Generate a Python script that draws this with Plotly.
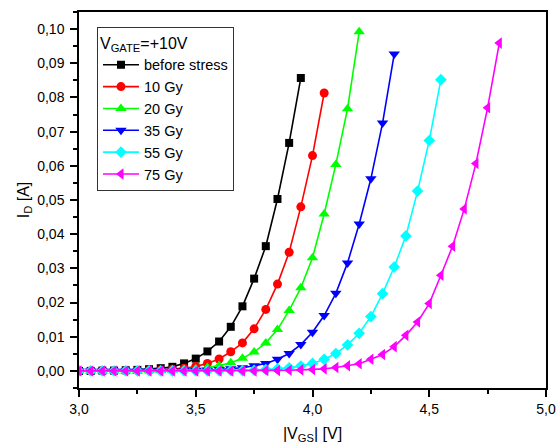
import plotly.graph_objects as go

VGS = [3.00, 3.05, 3.10, 3.15, 3.20, 3.25, 3.30, 3.35, 3.40, 3.45,
       3.50, 3.55, 3.60, 3.65, 3.70, 3.75, 3.80, 3.85, 3.90, 3.95,
       4.00, 4.05, 4.10, 4.15, 4.20, 4.25, 4.30, 4.35, 4.40, 4.45,
       4.50, 4.55, 4.60, 4.65, 4.70, 4.75, 4.80]

id_before = [0, 0, 0.0001, 0.0001, 0.0002, 0.0003, 0.0005, 0.0008, 0.0012, 0.0022,
             0.0036, 0.0057, 0.0086, 0.0129, 0.0189, 0.0270, 0.0365, 0.0503, 0.0667, 0.0857]
id_10gy = [0, 0, 0, 0, 0.0001, 0.0001, 0.0002, 0.0003, 0.0005, 0.0008,
           0.0013, 0.0022, 0.0035, 0.0056, 0.0082, 0.0123, 0.0180, 0.0254, 0.0347, 0.0480,
           0.0630, 0.0813]
id_20gy = [0, 0, 0, 0, 0, 0, 0.0001, 0.0001, 0.0002, 0.0004,
           0.0006, 0.0010, 0.0016, 0.0024, 0.0037, 0.0055, 0.0082, 0.0121, 0.0177, 0.0243,
           0.0331, 0.0459, 0.0604, 0.0767, 0.0992]
id_35gy = [0, 0, 0, 0, 0, 0, 0, 0, 0, 0.0001,
           0.0001, 0.0002, 0.0004, 0.0006, 0.0009, 0.0015, 0.0022, 0.0034, 0.0051, 0.0077,
           0.0113, 0.0162, 0.0227, 0.0316, 0.0430, 0.0562, 0.0725, 0.0927]
id_55gy = [0, 0, 0, 0, 0, 0, 0, 0, 0, 0,
           0, 0, 0, 0.0001, 0.0001, 0.0002, 0.0004, 0.0006, 0.0009, 0.0014,
           0.0022, 0.0034, 0.0051, 0.0076, 0.0110, 0.0159, 0.0226, 0.0304, 0.0395, 0.0526,
           0.0674, 0.0852]
id_75gy = [0, 0, 0, 0, 0, 0, 0, 0, 0, 0,
           0, 0, 0, 0, 0, 0, 0.0001, 0.0001, 0.0002, 0.0003,
           0.0004, 0.0006, 0.0010, 0.0015, 0.0021, 0.0034, 0.0048, 0.0071, 0.0104, 0.0143,
           0.0197, 0.0280, 0.0365, 0.0474, 0.0607, 0.0770, 0.0959]

series_names = ["before stress", "10 Gy", "20 Gy", "35 Gy", "55 Gy", "75 Gy"]
series_values = [id_before, id_10gy, id_20gy, id_35gy, id_55gy, id_75gy]
colors = ["#000000", "#FF0000", "#00FF00", "#0000FF", "#00FFFF", "#FF00FF"]
symbols = ["square", "circle", "triangle-up", "triangle-down", "diamond", "triangle-left"]
sizes = [8, 9, 10, 10, 9, 10]

FONT = "Liberation Sans, Arial, sans-serif"

fig = go.Figure()
for name, vals, c, s, sz in zip(series_names, series_values, colors, symbols, sizes):
    fig.add_trace(go.Scatter(
        x=VGS[:len(vals)], y=vals, name=name, mode="lines+markers",
        line=dict(color=c, width=1.6),
        marker=dict(color=c, symbol=s, size=sz, line=dict(width=0)),
    ))

fig.update_layout(
    width=558, height=444,
    margin=dict(l=79, r=12, t=12, b=56),
    paper_bgcolor="white", plot_bgcolor="white",
    separators=",.",
    font=dict(family=FONT, size=14, color="#000000"),
    showlegend=True,
    legend=dict(
        x=0.0385, y=0.96, xanchor="left", yanchor="top",
        bgcolor="white", bordercolor="#333333", borderwidth=1,
        font=dict(size=14.5, family=FONT),
        title=dict(text="V<sub>GATE</sub>=+10V", font=dict(size=16, family=FONT)),
        itemwidth=36,
        tracegroupgap=0,
    ),
    xaxis=dict(
        range=[3.0, 5.0], dtick=0.5, tick0=3.0, tickformat=".1f",
        showgrid=False, zeroline=False, automargin=False,
        showline=True, linecolor="#000000", linewidth=1.5, mirror=True,
        ticks="outside", ticklen=7, tickwidth=1.5, tickcolor="#000000",
        ticklabelstandoff=0,
        minor=dict(dtick=0.25, ticks="outside", ticklen=4, tickwidth=1.5, tickcolor="#000000"),
        tickfont=dict(size=14, family=FONT),
        title=dict(text="|V<sub>GS</sub>| [V]", font=dict(size=16, family=FONT), standoff=14),
    ),
    yaxis=dict(
        range=[-0.005, 0.105], dtick=0.01, tick0=0, tickformat=".2f",
        showgrid=False, zeroline=False, automargin=False,
        showline=True, linecolor="#000000", linewidth=1.5, mirror=True,
        ticks="outside", ticklen=7, tickwidth=1.5, tickcolor="#000000",
        ticklabelstandoff=3,
        minor=dict(dtick=0.005, ticks="outside", ticklen=4, tickwidth=1.5, tickcolor="#000000"),
        tickfont=dict(size=14, family=FONT),
        title=dict(text="I<sub>D</sub> [A]", font=dict(size=16, family=FONT), standoff=4),
    ),
)

# remove the browser's default 8px body margin so the figure fills the window exactly
fig.write_html("out.html", config={"displayModeBar": False},
               post_script="document.body.style.margin='0px';")
